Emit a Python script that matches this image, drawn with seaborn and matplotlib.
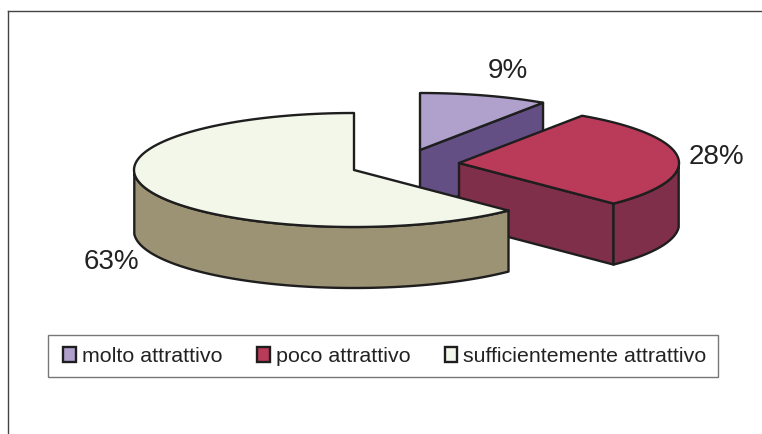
"""Exploded 3D pie: attrattivita, redrawn with seaborn styling."""

import matplotlib

matplotlib.use("Agg")

import matplotlib.pyplot as plt
import numpy as np
import seaborn as sns
from matplotlib.patches import Patch, Polygon, Rectangle

categories = ["molto attrattivo", "poco attrattivo", "sufficientemente attrattivo"]
percent = [9, 28, 63]

top_colors = ["#B0A0CC", "#B93A59", "#F3F7EA"]
side_colors = ["#644F84", "#7F2F4A", "#9C9274"]
centers = [(420, 150), (459, 163), (354, 170)]
label_pos = [(508, 71), (716, 157), (111, 262)]

RX, RY, DEPTH = 220, 57, 61
EDGE = "#1e1e1e"
LW = 1.7


def rim(cx, cy, t0, t1):
    # small warp in t mimics the perspective of the 3D pie
    t = np.radians(np.linspace(t0, t1, 120))
    t = t + np.radians(3.0) * np.sin(t)
    return np.column_stack([cx + RX * np.sin(t), cy - RY * np.cos(t)])


def face(ax, pts, color):
    ax.add_patch(
        Polygon(pts, closed=True, facecolor=color, edgecolor=EDGE, linewidth=LW, joinstyle="round")
    )


sns.set_style("white")
plt.rcParams["font.family"] = ["Liberation Sans", "DejaVu Sans"]

fig = plt.figure(figsize=(7.62, 4.34), dpi=100)
ax = fig.add_axes([8 / 762, 0, 1 - 8 / 762, 1 - 11 / 434])
ax.set_xlim(8, 762)
ax.set_ylim(434, 11)
ax.set_xticks([])
ax.set_yticks([])
sns.despine(ax=ax, top=False, left=False, right=True, bottom=True)
for side in ("top", "left"):
    ax.spines[side].set_color("#444444")
    ax.spines[side].set_linewidth(1.0)

drop = np.array([0, DEPTH])
starts = np.cumsum([0] + percent[:-1]) * 3.6
for i, (value, start) in enumerate(zip(percent, starts)):
    end = start + value * 3.6
    cx, cy = centers[i]
    arc = rim(cx, cy, start, end)

    # cut wall at the end of the slice, seen only on the front half
    if end < 180:
        wall = np.array([[cx, cy], arc[-1], arc[-1] + drop, [cx, cy + DEPTH]])
        face(ax, wall, side_colors[i])

    # outer wall on the front half
    lo, hi = max(start, 90), min(end, 270)
    if hi > lo:
        outer = rim(cx, cy, lo, hi)
        face(ax, np.vstack([outer, outer[::-1] + drop]), side_colors[i])

    face(ax, np.vstack([[cx, cy], arc]), top_colors[i])
    ax.text(*label_pos[i], f"{value}%", fontsize=20, color="#222222", ha="center", va="center")

# legend frame is wider than the legend's own padding allows, so it is drawn apart
ax.add_patch(Rectangle((48, 335), 670, 42, facecolor="white", edgecolor="#777777", linewidth=1.0))

handles = [Patch(facecolor=c, edgecolor=EDGE, linewidth=1.7) for c in top_colors]
legend = ax.legend(
    handles,
    categories,
    ncol=3,
    loc="center",
    bbox_to_anchor=(385, 356.5),
    bbox_transform=ax.transData,
    fontsize=15.4,
    frameon=False,
    handlelength=0.6,
    handleheight=0.7,
    handletextpad=0.28,
    columnspacing=1.6,
    borderpad=0,
    labelcolor="#222222",
)

fig.savefig("out.png", dpi=100)
